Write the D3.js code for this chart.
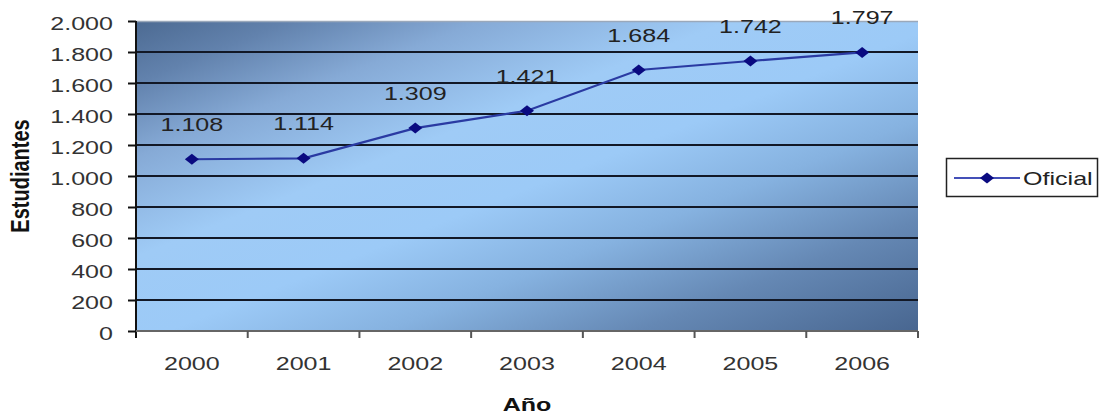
<!DOCTYPE html>
<html>
<head>
<meta charset="utf-8">
<script src="https://cdn.jsdelivr.net/npm/d3@7"></script>
<style>
  html, body { margin: 0; padding: 0; background: #ffffff; }
  svg { display: block; }
  text { font-family: "Liberation Sans", Arial, sans-serif; }
</style>
</head>
<body>
<svg id="chart" width="1099" height="416"></svg>
<script>
// ---- data ----
const years = ["2000", "2001", "2002", "2003", "2004", "2005", "2006"];
const oficial = [1108, 1114, 1309, 1421, 1684, 1742, 1797];
const yTicks = [0, 200, 400, 600, 800, 1000, 1200, 1400, 1600, 1800, 2000];
const seriesName = "Oficial";
const yTitle = "Estudiantes";
const xTitle = "Año";

// ---- layout ----
const W = 1099, H = 416;
const plot = { left: 136, right: 918, top: 21, bottom: 331 };
const SX = 1.32;          // horizontal stretch seen in the reference text
const FS = 19;

const es = d3.formatLocale({ decimal: ",", thousands: ".", grouping: [3], currency: ["$", ""] });
const fmt = es.format(",d");

const svg = d3.select("#chart");

const x = d3.scaleBand().domain(years).range([plot.left, plot.right]).padding(0);
const y = d3.scaleLinear().domain([0, 2000]).range([plot.bottom, plot.top]);

// background gradient
const defs = svg.append("defs");
const grad = defs.append("linearGradient").attr("id", "bg")
  .attr("x1", 0).attr("y1", 0).attr("x2", 1).attr("y2", 1);
[
  [0.00, "#4c6a92"],
  [0.10, "#6282ad"],
  [0.22, "#86aad6"],
  [0.38, "#9fcbf6"],
  [0.52, "#9ccaf7"],
  [0.66, "#86b2e0"],
  [0.82, "#6588b4"],
  [1.00, "#486690"]
].forEach(([o, c]) => grad.append("stop").attr("offset", o).attr("stop-color", c));

svg.append("rect")
  .attr("x", plot.left).attr("y", plot.top)
  .attr("width", plot.right - plot.left).attr("height", plot.bottom - plot.top)
  .attr("fill", "url(#bg)");

// top border (light)
svg.append("line")
  .attr("x1", plot.left).attr("x2", plot.right)
  .attr("y1", plot.top + 0.5).attr("y2", plot.top + 0.5)
  .attr("stroke", "#9aa8ba").attr("stroke-width", 1.5);

// gridlines
svg.append("g").selectAll("line")
  .data(yTicks.filter(v => v > 0 && v < 2000))
  .join("line")
  .attr("x1", plot.left).attr("x2", plot.right)
  .attr("y1", d => y(d)).attr("y2", d => y(d))
  .attr("stroke", "#121826").attr("stroke-width", 2);

// y axis
const yAxis = d3.axisLeft(y).tickValues(yTicks).tickSize(8).tickPadding(15).tickFormat(fmt);
const gy = svg.append("g").attr("transform", `translate(${plot.left},0)`).call(yAxis);
gy.select(".domain").remove();
gy.selectAll(".tick line").attr("stroke", "#111").attr("stroke-width", 2);
gy.selectAll(".tick text").remove();
gy.selectAll(".tick").append("text")
  .attr("transform", `translate(-23,8.5) scale(${SX},1)`)
  .attr("text-anchor", "end")
  .attr("fill", "#333")
  .attr("font-size", FS)
  .text(d => fmt(d));

svg.append("line")
  .attr("x1", plot.left).attr("x2", plot.left)
  .attr("y1", plot.top).attr("y2", plot.bottom + 7)
  .attr("stroke", "#111").attr("stroke-width", 2);

// x axis
svg.append("line")
  .attr("x1", plot.left).attr("x2", plot.right)
  .attr("y1", plot.bottom).attr("y2", plot.bottom)
  .attr("stroke", "#666").attr("stroke-width", 2);

const bounds = years.map(d => x(d)).concat([x(years[years.length - 1]) + x.bandwidth()]);
svg.append("g").selectAll("line")
  .data(bounds.slice(1))
  .join("line")
  .attr("x1", d => d).attr("x2", d => d)
  .attr("y1", plot.bottom).attr("y2", plot.bottom + 7)
  .attr("stroke", "#555").attr("stroke-width", 2);

svg.append("g").selectAll("text")
  .data(years)
  .join("text")
  .attr("transform", d => `translate(${x(d) + x.bandwidth() / 2},370) scale(${SX},1)`)
  .attr("text-anchor", "middle")
  .attr("fill", "#333")
  .attr("font-size", FS)
  .text(d => d);

// series line
const pts = years.map((yr, i) => ({ yr, v: oficial[i] }));
const cx = d => x(d.yr) + x.bandwidth() / 2;
svg.append("path")
  .datum(pts)
  .attr("d", d3.line().x(cx).y(d => y(d.v)))
  .attr("fill", "none")
  .attr("stroke", "#2a3aa2")
  .attr("stroke-width", 2.2);

const diamond = "M0,-5.5 L7,0 L0,5.5 L-7,0 Z";
svg.append("g").selectAll("path")
  .data(pts)
  .join("path")
  .attr("transform", d => `translate(${cx(d)},${y(d.v)})`)
  .attr("d", diamond)
  .attr("fill", "#0a0a80");

// data labels
svg.append("g").selectAll("text")
  .data(pts)
  .join("text")
  .attr("transform", d => `translate(${cx(d)},${y(d.v) - 28}) scale(${SX},1)`)
  .attr("text-anchor", "middle")
  .attr("fill", "#222")
  .attr("font-size", FS)
  .text(d => fmt(d.v));

// axis titles
svg.append("text")
  .attr("transform", `translate(29,176) rotate(-90) scale(1,${SX})`)
  .attr("text-anchor", "middle")
  .attr("font-weight", "bold")
  .attr("font-size", 20)
  .attr("fill", "#111")
  .text(yTitle);

svg.append("text")
  .attr("transform", `translate(${(plot.left + plot.right) / 2},411) scale(${SX},1)`)
  .attr("text-anchor", "middle")
  .attr("font-weight", "bold")
  .attr("font-size", 19)
  .attr("fill", "#111")
  .text(xTitle);

// legend
const lg = svg.append("g");
lg.append("rect")
  .attr("x", 946.5).attr("y", 158.5).attr("width", 151).attr("height", 38)
  .attr("fill", "#fff").attr("stroke", "#222").attr("stroke-width", 1.5);
lg.append("line")
  .attr("x1", 954).attr("x2", 1020).attr("y1", 178).attr("y2", 178)
  .attr("stroke", "#4450b8").attr("stroke-width", 2.2);
lg.append("path")
  .attr("transform", "translate(987,178)")
  .attr("d", diamond)
  .attr("fill", "#0a0a80");
lg.append("text")
  .attr("transform", `translate(1023,185) scale(${SX},1)`)
  .attr("fill", "#222")
  .attr("font-size", FS)
  .text(seriesName);
</script>
</body>
</html>
